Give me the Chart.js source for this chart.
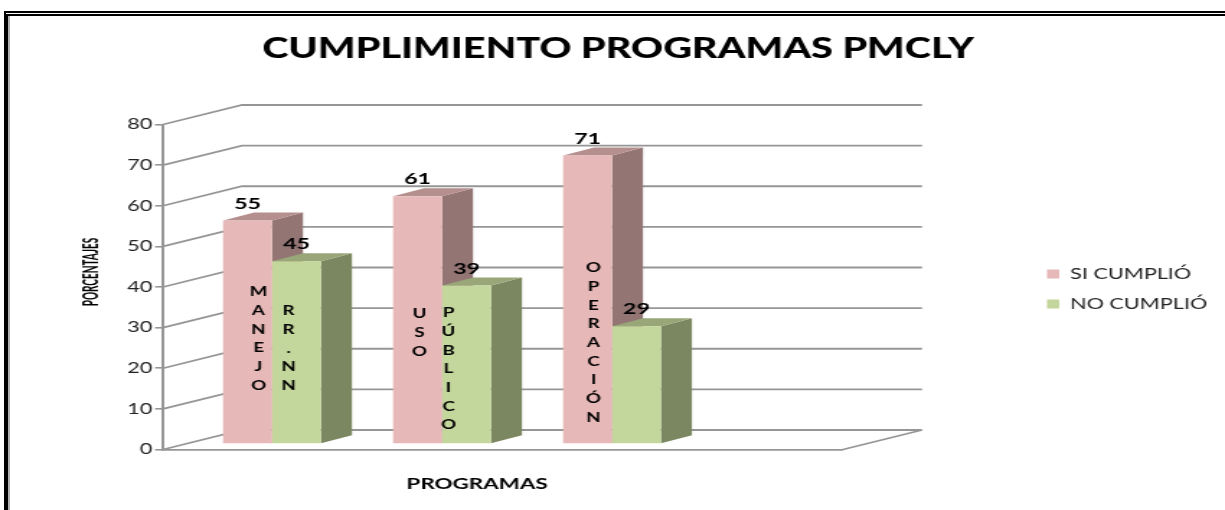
<!DOCTYPE html>
<html>
<head>
<meta charset="utf-8">
<title>Cumplimiento programas PMCLY</title>
<script src="https://cdn.jsdelivr.net/npm/chart.js@4"></script>
<style>
    html, body { margin: 0; padding: 0; background: #fff; overflow: hidden; }
    #marco {
        position: absolute; left: 4px; top: 11px; right: 0; bottom: 0;
        border-top: 5px double #000; border-left: 4px solid #000;
        box-shadow: inset 2px 0 0 #b0b0b0;
    }
    /* la imagen original esta estirada a lo ancho, por eso el scaleX */
    #lienzo { position: absolute; left: 0; top: 0; width: 850px; height: 510px;
              transform-origin: 0 0; transform: scaleX(1.44118); }
</style>
</head>
<body>
<div id="marco"></div>
<div id="lienzo"><canvas id="grafico" width="850" height="510"></canvas></div>
<script>
const categorias = ["MANEJO RR.NN", "USO PÚBLICO", "OPERACIÓN", ""];
const siCumplio = [55, 61, 71];
const noCumplio = [45, 39, 29];
const textoSi = ["MANEJO", "USO", "OPERACIÓN"];
const textoNo = ["RR.NN", "PÚBLICO", ""];
const ticksY = [0, 10, 20, 30, 40, 50, 60, 70, 80];

const K = 1225 / 850;
const FUENTE = "Lato, Carlito, sans-serif";
const GRIS = "#969696";

// Desplazamientos de la perspectiva (en pixeles de la imagen final)
const PARED = { dx: 79 / K, dy: -19.5 };
const PLANO = { dx: 24 / K, dy: -5.5 };
const FONDO = { dx: 31 / K, dy: -8 };

// Colores de cada serie: frente, tapa, lado
const COLORES = [
    { frente: "#E6B8B7", tapa: "#B48F8E", lado: "#937574" },
    { frente: "#C3D69B", tapa: "#98A678", lado: "#7B8760" }
];

// Letras verticales dentro de las barras
const LETRAS = [
    { textos: textoSi, x: [11, 2, 6], y: [292, 314, 268] },
    { textos: textoNo, x: [-8, -18, 0], y: [311, 313, 0] }
];
const PASO_LETRA = 18.7;

function poligono(ctx, puntos, color) {
    ctx.fillStyle = color;
    ctx.beginPath();
    puntos.forEach((p, i) => i ? ctx.lineTo(p[0], p[1]) : ctx.moveTo(p[0], p[1]));
    ctx.closePath();
    ctx.fill();
}

const perspectiva = {
    id: "perspectiva",
    afterLayout(chart) {
        // leyenda y titulo van fuera del area del grafico
        const leyenda = chart.legend;
        const relleno = leyenda.options.labels.padding;
        leyenda.left = 1047 / K - relleno;
        leyenda.top = 266.5 - relleno;
        leyenda.right = 850;
        leyenda.bottom = 340;
        chart.titleBlock.left = 0;
        chart.titleBlock.right = 2 * 618 / K;
    },
    beforeDatasetsDraw(chart) {
        const ctx = chart.ctx;
        const { left, right } = chart.chartArea;
        const y = chart.scales.y;
        ctx.save();
        ctx.strokeStyle = GRIS;
        ctx.lineWidth = 1.8;
        ctx.beginPath();
        ticksY.forEach(v => {
            const py = y.getPixelForValue(v);
            ctx.moveTo(left, py);
            ctx.lineTo(left + PARED.dx, py + PARED.dy);
            ctx.lineTo(right + PARED.dx, py + PARED.dy);
        });
        const py0 = y.getPixelForValue(0);
        ctx.moveTo(right, py0);
        ctx.lineTo(right + PARED.dx, py0 + PARED.dy);
        ctx.stroke();
        ctx.restore();
        // las barras van sobre un plano algo metido hacia adentro
        ctx.save();
        ctx.translate(PLANO.dx, PLANO.dy);
        // lado y tapa de cada barra, serie por serie, antes de los frentes
        chart.data.datasets.forEach((ds, d) => {
            const color = COLORES[d];
            chart.getDatasetMeta(d).data.forEach(barra => {
                const { x, y, base, width } = barra.getProps(["x", "y", "base", "width"], true);
                const der = x + width / 2, izq = x - width / 2;
                poligono(ctx, [[der, y], [der + FONDO.dx, y + FONDO.dy], [der + FONDO.dx, base + FONDO.dy], [der, base]], color.lado);
                poligono(ctx, [[izq, y], [izq + FONDO.dx, y + FONDO.dy], [der + FONDO.dx, y + FONDO.dy], [der, y]], color.tapa);
            });
        });
    },
    afterDatasetsDraw(chart) {
        const ctx = chart.ctx;
        ctx.fillStyle = "#000";
        ctx.textAlign = "center";
        ctx.textBaseline = "middle";
        ctx.font = "bold 16px " + FUENTE;
        chart.data.datasets.forEach((ds, d) => {
            chart.getDatasetMeta(d).data.forEach((barra, i) => {
                ctx.fillText(String(ds.data[i]), barra.x, barra.y - 17);
            });
        });
        ctx.restore();

        // letras dentro de las barras
        ctx.save();
        ctx.fillStyle = "#000";
        ctx.textAlign = "center";
        ctx.textBaseline = "middle";
        ctx.font = "bold 13px " + FUENTE;
        LETRAS.forEach((serie, d) => {
            chart.getDatasetMeta(d).data.forEach((barra, i) => {
                Array.from(serie.textos[i]).forEach((letra, n) => {
                    ctx.fillText(letra, barra.x + PLANO.dx + serie.x[i] / K, serie.y[i] + n * PASO_LETRA);
                });
            });
        });

        // titulos de los ejes
        ctx.font = "bold 15.5px " + FUENTE;
        ctx.fillText("PROGRAMAS", 477 / K, 484);
        ctx.translate(91 / K, 272);
        ctx.rotate(-Math.PI / 2);
        ctx.scale(0.69, 1);
        ctx.font = "bold 14.5px " + FUENTE;
        ctx.fillText("PORCENTAJES", 0, 0);
        ctx.restore();
    }
};

new Chart(document.getElementById("grafico"), {
    type: "bar",
    data: {
        labels: categorias,
        datasets: [
            { label: "SI CUMPLIÓ", data: siCumplio, backgroundColor: COLORES[0].frente, clip: false },
            { label: "NO CUMPLIÓ", data: noCumplio, backgroundColor: COLORES[1].frente, clip: false }
        ]
    },
    options: {
        responsive: false,
        animation: false,
        devicePixelRatio: 1,
        layout: { padding: { left: 0, right: 850 - 843 / K, top: 0, bottom: 60.5 } },
        datasets: { bar: { barPercentage: 1, categoryPercentage: 0.576 } },
        scales: {
            x: {
                grid: { display: false, drawTicks: false },
                border: { color: GRIS, width: 1.8 },
                ticks: { display: false },
                afterFit(scale) { scale.height = 0; }
            },
            y: {
                min: 0,
                max: 80,
                afterBuildTicks(scale) { scale.ticks = ticksY.map(v => ({ value: v })); },
                afterFit(scale) { scale.width = 163 / K; },
                grid: { drawOnChartArea: false, color: GRIS, tickLength: 5.5, lineWidth: 1.6 },
                border: { color: GRIS, width: 2 },
                ticks: { color: "#222", padding: 2, font: { family: FUENTE, size: 15 } }
            }
        },
        plugins: {
            title: {
                display: true,
                text: "CUMPLIMIENTO PROGRAMAS PMCLY",
                color: "#000",
                font: { family: FUENTE, size: 27.5, weight: "900", lineHeight: 1.2 },
                padding: { top: 33, bottom: 58.5 }
            },
            legend: {
                position: "chartArea",
                align: "start",
                labels: {
                    color: "#222",
                    boxWidth: 8.5,
                    boxHeight: 9,
                    padding: 15,
                    font: { family: FUENTE, size: 15 }
                }
            },
            tooltip: { enabled: false }
        }
    },
    plugins: [perspectiva]
});
</script>
</body>
</html>
